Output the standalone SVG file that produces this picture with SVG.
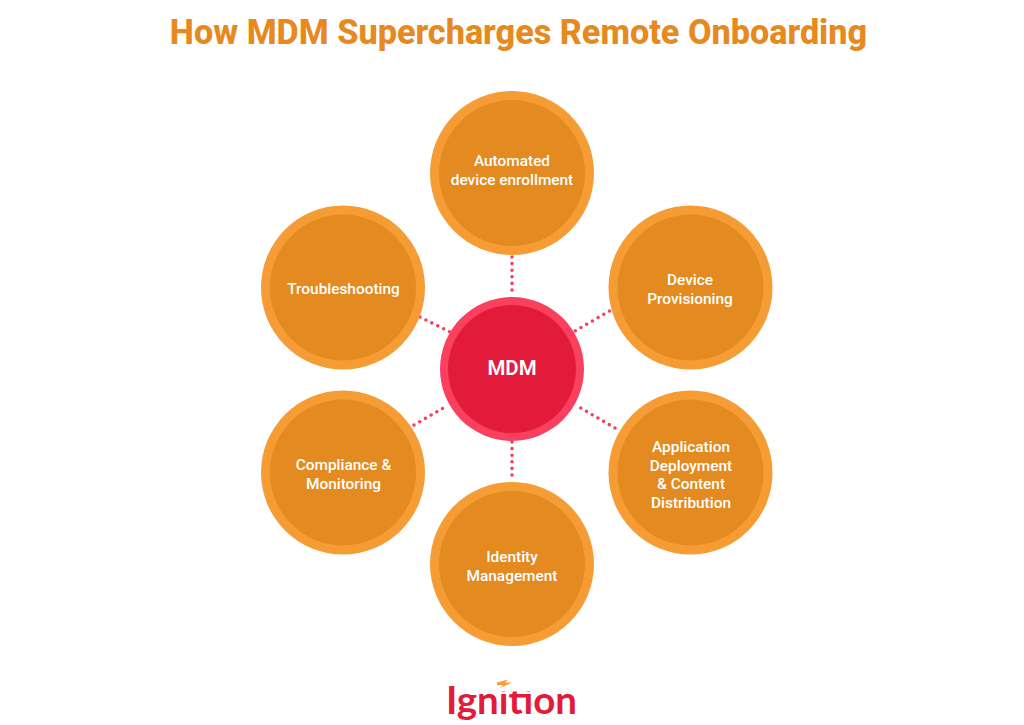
<svg xmlns="http://www.w3.org/2000/svg" width="1024" height="725" viewBox="0 0 1024 725">
  <style>
    .ring { fill: #f59c35; }
    .disc { fill: #e38a20; }
    .label { font-family: Roboto, "Liberation Sans", sans-serif; font-weight: 500; font-size: 15.400px; fill: #fff; text-anchor: middle; }
    .link { stroke: #f4415f; stroke-width: 3.600; stroke-linecap: round; stroke-dasharray: 0 6.600; fill: none; }
  </style>
  <defs>
    <clipPath id="logo-dots"><rect x="440" y="680" width="20" height="45"/><rect x="460" y="691.500" width="125" height="33"/></clipPath>
  </defs>
  <rect width="1024" height="725" fill="#fff"/>
  <text x="518.500" y="44" font-family="Roboto, 'Liberation Sans', sans-serif" font-weight="800" font-size="34.200" fill="#e68a1f" text-anchor="middle">How MDM Supercharges Remote Onboarding</text>

  <g id="connectors">
    <path class="link" d="M512 257V296"/>
    <path class="link" d="M512 442V479"/>
    <path class="link" d="M609.500 311L575 331"/>
    <path class="link" d="M615 428L579 407"/>
    <path class="link" d="M420 317L450 332"/>
    <path class="link" d="M414 425L445 407"/>
  </g>

  <g id="node-enrollment">
    <circle class="ring" cx="512" cy="173" r="82"/><circle class="disc" cx="512" cy="173" r="73"/>
    <text class="label" x="512" y="166">Automated</text><text class="label" x="512" y="185">device enrollment</text>
  </g>
  <g id="node-provisioning">
    <circle class="ring" cx="690.500" cy="287.500" r="82"/><circle class="disc" cx="690.500" cy="287.500" r="73"/>
    <text class="label" x="690" y="285">Device</text><text class="label" x="690" y="304">Provisioning</text>
  </g>
  <g id="node-deployment">
    <circle class="ring" cx="690.500" cy="472.500" r="82"/><circle class="disc" cx="690.500" cy="472.500" r="73"/>
    <text class="label" x="691" y="452">Application</text><text class="label" x="691" y="471">Deployment</text><text class="label" x="691" y="489">&amp; Content</text><text class="label" x="691" y="508">Distribution</text>
  </g>
  <g id="node-identity">
    <circle class="ring" cx="512" cy="564" r="82"/><circle class="disc" cx="512" cy="564" r="73"/>
    <text class="label" x="512" y="562">Identity</text><text class="label" x="512" y="581">Management</text>
  </g>
  <g id="node-compliance">
    <circle class="ring" cx="343" cy="472.500" r="82"/><circle class="disc" cx="343" cy="472.500" r="73"/>
    <text class="label" x="343.500" y="470">Compliance &amp;</text><text class="label" x="343.500" y="489">Monitoring</text>
  </g>
  <g id="node-troubleshooting">
    <circle class="ring" cx="343" cy="287.500" r="82"/><circle class="disc" cx="343" cy="287.500" r="73"/>
    <text class="label" x="343.500" y="294">Troubleshooting</text>
  </g>
  <g id="node-mdm">
    <circle cx="512" cy="369" r="72" fill="#f9405f"/><circle cx="512" cy="369" r="64" fill="#e31b3a"/>
    <text x="512" y="375" font-family="Roboto, 'Liberation Sans', sans-serif" font-weight="600" font-size="20.500" fill="#fff" text-anchor="middle">MDM</text>
  </g>

  <g id="logo">
    <text x="446" y="714" clip-path="url(#logo-dots)" font-family="Lato, 'Open Sans', sans-serif" font-weight="700" font-size="38" textLength="131" lengthAdjust="spacingAndGlyphs" fill="#e31b3a">Ignition</text>
    <path d="M497 682.500L508 679.500L505 682.500H512L500 688L503 685H497Z" fill="#f59c35"/>
  </g>
</svg>
